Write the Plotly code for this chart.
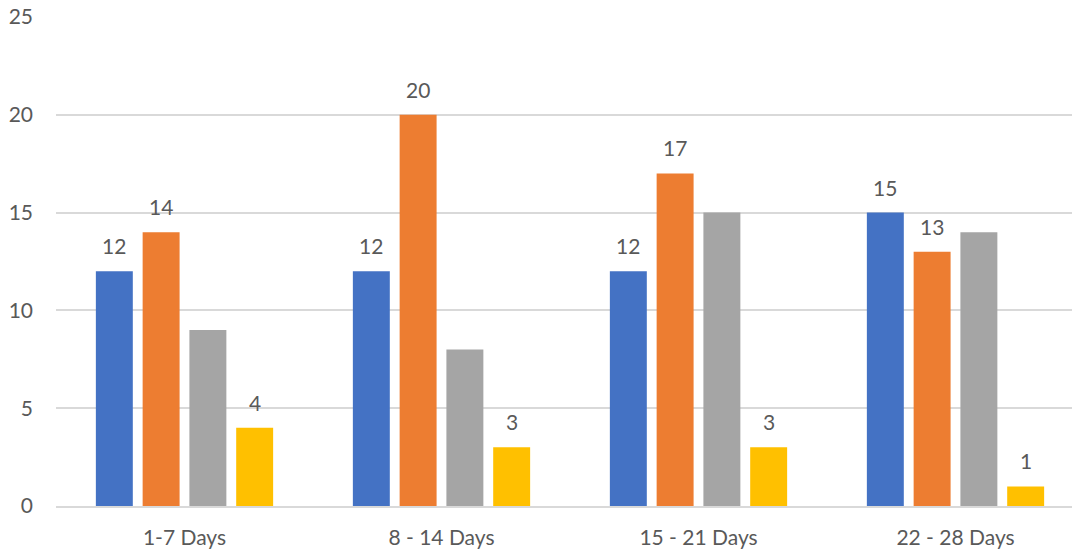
import plotly.graph_objects as go

categories = ["1-7 Days", "8 - 14 Days", "15 - 21 Days", "22 - 28 Days"]
series_names = ["Series 1", "Series 2", "Series 3", "Series 4"]
series_values = [
    [12, 12, 12, 15],
    [14, 20, 17, 13],
    [9, 8, 15, 14],
    [4, 3, 3, 1],
]
series_colors = ["#4472C4", "#ED7D31", "#A5A5A5", "#FFC000"]
show_labels = [True, True, False, True]
y_ticks = [0, 5, 10, 15, 20, 25]

W, H = 1072, 553
ml, mr, mt, mb = 56, 0, 17, 47
cat_px = 257.0
plot_w = W - ml - mr
bargap = 0.272
bargroupgap = 0.21

FONT = "Lato, Carlito, Calibri, sans-serif"
FS = 21
TXT = "#595959"

fig = go.Figure()
for name, vals, col in zip(series_names, series_values, series_colors):
    fig.add_trace(go.Bar(x=categories, y=vals, name=name, marker_color=col,
                         marker_line_width=0, hoverinfo="x+y"))

slot = cat_px * (1 - bargap) / len(series_values)
for si, (vals, lab) in enumerate(zip(series_values, show_labels)):
    if not lab:
        continue
    xs = (si - (len(series_values) - 1) / 2) * slot
    for c, v in zip(categories, vals):
        fig.add_annotation(x=c, y=v, text=str(v), showarrow=False,
                           xshift=xs, yshift=11, yanchor="bottom",
                           font=dict(family=FONT, size=FS, color=TXT))

fig.update_layout(
    width=W, height=H,
    margin=dict(l=ml, r=mr, t=mt, b=mb),
    paper_bgcolor="white", plot_bgcolor="white",
    barmode="group", bargap=bargap, bargroupgap=bargroupgap,
    showlegend=False,
    font=dict(family=FONT, size=FS, color=TXT),
)
fig.update_xaxes(range=[-0.5, -0.5 + plot_w / cat_px], showgrid=False,
                 showline=True, linecolor="#D9D9D9", linewidth=1.5,
                 ticks="", ticklabelstandoff=12,
                 tickfont=dict(family=FONT, size=FS, color=TXT))
fig.update_yaxes(range=[0, 25], tickvals=y_ticks, showgrid=True,
                 gridcolor="#D9D9D9", gridwidth=1.5, zeroline=False,
                 showline=False, ticks="", ticklabelstandoff=22,
                 tickfont=dict(family=FONT, size=FS, color=TXT))

fig.write_html("out.html")
